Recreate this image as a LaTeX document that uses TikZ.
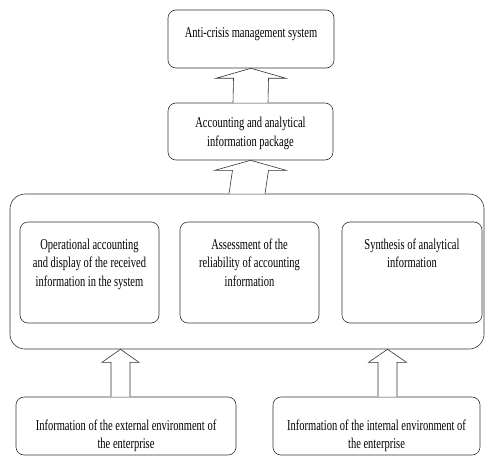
\documentclass[tikz,border=0pt]{standalone}
\usepackage{fontspec}
\setmainfont{Liberation Serif}[FakeStretch=0.7]
\usetikzlibrary{positioning,calc}

% hollow upward block arrow: bottom point, tip, shaft half width, head half width, head height
\newcommand{\hollowarrow}[5]{%
  \draw[hollow] ($(#1)+(-#3,0)$) -- ($(#2)+(-#3,-#5)$) -- ($(#2)+(-#4,-#5)$) -- (#2)
    -- ($(#2)+(#4,-#5)$) -- ($(#2)+(#3,-#5)$) -- ($(#1)+(#3,0)$);}

\begin{document}
\begin{tikzpicture}[
  x=1pt, y=1pt,
  box/.style={rectangle, draw=black!80, line width=0.6pt, rounded corners=8pt, inner sep=0pt},
  frame/.style={rectangle, draw=black!80, line width=0.6pt, rounded corners=15pt, inner sep=0pt},
  txt/.style={align=center, inner sep=0pt, font=\fontsize{15}{18.5}\selectfont},
  hollow/.style={draw=black!80, line width=0.6pt, fill=white},
  node distance=16pt
]
\useasboundingbox (0,0) rectangle (486,456);

% boxes
\node[box, minimum width=166pt, minimum height=58pt] (crisis) at (251,417) {};
\node[box, minimum width=165pt, minimum height=57pt] (package) at (250.5,324.5) {};
\node[frame, minimum width=474pt, minimum height=155pt] (process) at (247,184.5) {};
\node[box, minimum width=139pt, minimum height=101pt] (oper) at (89.5,183.5) {};
\node[box, minimum width=139pt, minimum height=101pt] (assess) at (249.5,183.5) {};
\node[box, minimum width=140pt, minimum height=101pt] (synth) at (412,183.5) {};
\node[box, minimum width=220pt, minimum height=58pt] (extenv) at (126,30) {};
\node[box, minimum width=207pt, minimum height=58pt] (intenv) at (376.5,30) {};

% texts
\node[txt, below=18pt of crisis.north] (crisistxt) {Anti-crisis management system};
\node[txt, below=14.5pt of package.north] (packagetxt) {Accounting and analytical\\information package};
\node[txt, below=17pt of oper.north] (opertxt) {Operational accounting\\and display of the received\\information in the system};
\node[txt, below=17pt of assess.north] (assesstxt) {Assessment of the\\reliability of accounting\\information};
\node[txt, below=17pt of synth.north] (synthtxt) {Synthesis of analytical\\information};
\node[txt, below=23pt of extenv.north] (extenvtxt) {Information of the external environment of\\the enterprise};
\node[txt, below=23pt of intenv.north] (intenvtxt) {Information of the internal environment of\\the enterprise};

% arrows
\coordinate (extfoot) at ($(extenv.north)+(-5.5,0)$);
\coordinate (exttip) at (extfoot |- process.south);
\coordinate (intfoot) at ($(intenv.north)+(11,0)$);
\coordinate (inttip) at (intfoot |- process.south);
\hollowarrow{package.north}{crisis.south}{17.5}{35}{10}
\hollowarrow{process.north}{package.south}{18}{35.5}{10}
\hollowarrow{extfoot}{exttip}{9.5}{18.5}{13}
\hollowarrow{intfoot}{inttip}{9.5}{19}{13}
\end{tikzpicture}
\end{document}
